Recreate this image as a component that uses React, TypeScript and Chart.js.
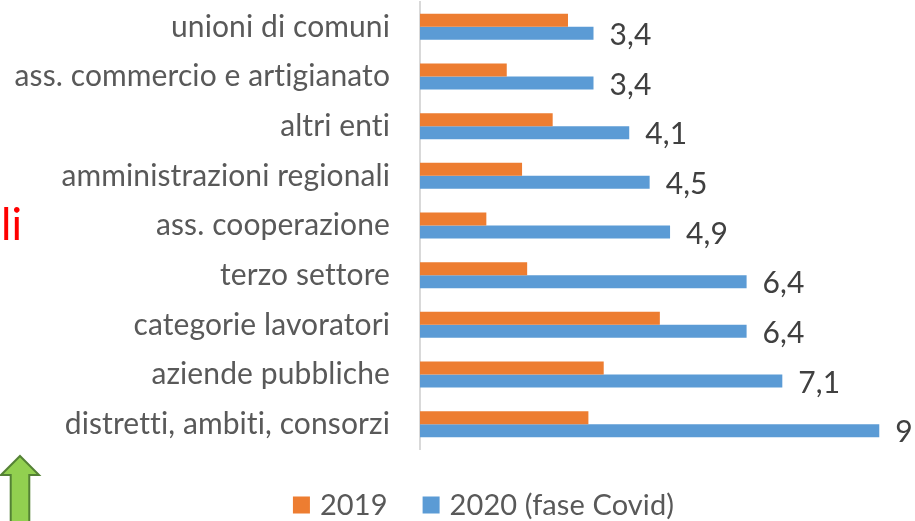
import { useEffect, useRef } from "react";
import { Chart, registerables } from "chart.js";

Chart.register(...registerables);

const categories = [
  "unioni di comuni",
  "ass. commercio e artigianato",
  "altri enti",
  "amministrazioni regionali",
  "ass. cooperazione",
  "terzo settore",
  "categorie lavoratori",
  "aziende pubbliche",
  "distretti, ambiti, consorzi",
];
const values2019 = [2.9, 1.7, 2.6, 2.0, 1.3, 2.1, 4.7, 3.6, 3.3];
const values2020 = [3.4, 3.4, 4.1, 4.5, 4.9, 6.4, 6.4, 7.1, 9];
const seriesLabels = ["2019", "2020 (fase Covid)"];
const seriesColors = ["#ED7D31", "#5B9BD5"];
const sideText = "li";

const FONT = "Lato";
const FS = 30;
const LEGEND_FS = 29;

function noLig(chart: any) {
  try {
    chart.ctx.letterSpacing = "0.1px";
  } catch (e) {}
}

export default function App() {
  const ref = useRef<HTMLCanvasElement | null>(null);

  useEffect(() => {
    document.body.style.margin = "0";
    const canvas = ref.current;
    if (!canvas) return;

    const extras = {
      id: "extras",
      beforeUpdate(chart: any) {
        noLig(chart);
      },
      beforeLayout(chart: any) {
        noLig(chart);
      },
      beforeDraw(chart: any) {
        noLig(chart);
      },
      afterDatasetsDraw(chart: any) {
        const ctx = chart.ctx;
        const meta = chart.getDatasetMeta(1);
        ctx.save();
        ctx.fillStyle = "#404040";
        ctx.font = `${FS}px ${FONT}`;
        ctx.textAlign = "left";
        ctx.textBaseline = "middle";
        meta.data.forEach((bar: any, i: number) => {
          const txt = String(values2020[i]).replace(".", ",");
          ctx.fillText(txt, bar.x + 16, bar.y + 2);
        });
        ctx.restore();
      },
      afterDraw(chart: any) {
        const ctx = chart.ctx;
        ctx.save();
        // legend
        ctx.font = `${LEGEND_FS}px ${FONT}`;
        ctx.textBaseline = "middle";
        ctx.textAlign = "left";
        const box = 17;
        const gapText = 10;
        const gapItem = 35;
        const widths = seriesLabels.map((l) => ctx.measureText(l).width);
        let total = 0;
        widths.forEach((w, i) => {
          total += box + gapText + w + (i < widths.length - 1 ? gapItem : 0);
        });
        let x = 483.5 - total / 2;
        const cy = 505;
        seriesLabels.forEach((l, i) => {
          ctx.fillStyle = seriesColors[i];
          ctx.fillRect(x, cy - box / 2, box, box);
          ctx.fillStyle = "#595959";
          ctx.fillText(l, x + box + gapText, cy + 1);
          x += box + gapText + widths[i] + gapItem;
        });
        // red side text
        ctx.fillStyle = "#FF0000";
        ctx.font = `44px ${FONT}`;
        ctx.textBaseline = "alphabetic";
        ctx.fillText(sideText, 1, 240);
        // green arrow
        ctx.beginPath();
        ctx.moveTo(20, 456);
        ctx.lineTo(39, 475);
        ctx.lineTo(29.3, 475);
        ctx.lineTo(29.3, 530);
        ctx.lineTo(10.7, 530);
        ctx.lineTo(10.7, 475);
        ctx.lineTo(1, 475);
        ctx.closePath();
        ctx.fillStyle = "#92D050";
        ctx.fill();
        ctx.strokeStyle = "#548235";
        ctx.lineWidth = 2;
        ctx.stroke();
        ctx.restore();
      },
    };

    const chart = new Chart(canvas, {
      type: "bar",
      data: {
        labels: categories,
        datasets: [
          {
            label: seriesLabels[0],
            data: values2019,
            backgroundColor: seriesColors[0],
            categoryPercentage: 0.524,
            barPercentage: 1,
          },
          {
            label: seriesLabels[1],
            data: values2020,
            backgroundColor: seriesColors[1],
            categoryPercentage: 0.524,
            barPercentage: 1,
          },
        ],
      },
      options: {
        indexAxis: "y",
        responsive: false,
        animation: false,
        layout: { padding: { top: 2, bottom: 72, left: 0, right: 0 } },
        plugins: {
          legend: { display: false },
          tooltip: { enabled: false },
        },
        scales: {
          x: {
            display: false,
            min: 0,
            max: 9.7,
          },
          y: {
            grid: { display: false, drawTicks: false },
            border: { display: true, color: "#D9D9D9", width: 2 },
            ticks: {
              padding: 30,
              color: "#595959",
              font: { family: FONT, size: FS },
            },
            afterFit(scale: any) {
              scale.width = 420;
              scale.paddingTop = 0;
              scale.paddingBottom = 0;
            },
          },
        },
      },
      plugins: [extras],
    });

    return () => chart.destroy();
  }, []);

  return (
    <div style={{ width: 915, height: 521 }}>
      <canvas ref={ref} width={915} height={521} />
    </div>
  );
}
